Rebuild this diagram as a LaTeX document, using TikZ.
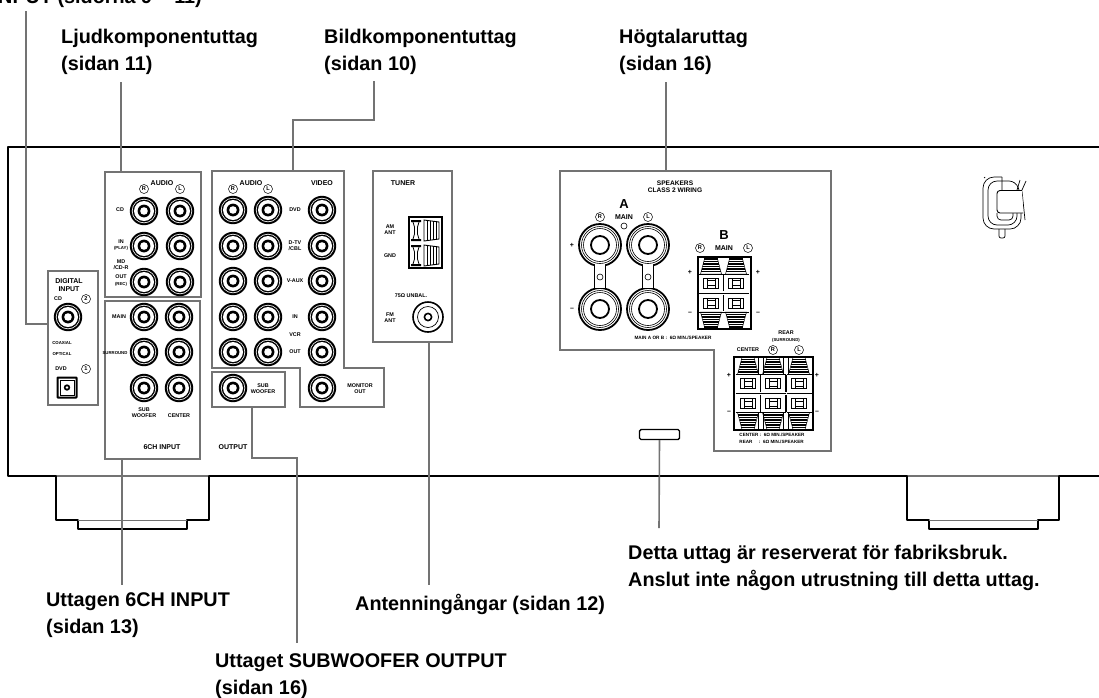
\documentclass[tikz,border=0pt]{standalone}
\usepackage{fontspec}
\setmainfont{Liberation Sans}
\tikzset{
  biglabel/.style={anchor=base west,align=left,inner sep=0pt,font=\fontsize{19.8}{27}\selectfont\bfseries},
  sml/.style={inner sep=0pt,align=center,font=\fontsize{7}{7.4}\selectfont\bfseries},
  tin/.style={inner sep=0pt,align=center,font=\fontsize{5.4}{6.6}\selectfont\bfseries},
  tiny/.style={inner sep=0pt,align=center,font=\fontsize{4.3}{7}\selectfont\bfseries},
  chan/.style={draw,circle,line width=.5pt,inner sep=0pt,minimum size=9pt,font=\fontsize{5.6}{5.6}\selectfont\bfseries},
  leader/.style={draw=black!55,line width=2.2pt},
  panel/.style={draw=black!55,line width=2.2pt,fill=white},
  boxpanel/.style={panel,anchor=north west,inner sep=0pt,outer sep=0pt},
  body/.style={line width=1.8pt,line cap=round,line join=round},
  rca/.pic={
    \fill (0,0) circle (14.2pt);
    \fill[white] (0,0) circle (12.2pt);
    \fill (0,0) circle (11.4pt);
    \fill[white] (0,0) circle (10pt);
    \fill (0,0) circle (6.4pt);
    \fill[white] (0,0) circle (3.8pt);
  },
  spcol/.pic={
    % top and bottom cones
    \foreach \ya/\yb/\yc in {0/17/1,72/55/-1}{
      \draw[fill=white,line width=.5pt] (-6,\ya) -- (6,\ya) -- (10.5,\yb) -- (-10.5,\yb) -- cycle;
      \foreach \s in {2,4.5,7,9.5,12,14.5}
        \draw[line width=1.1pt] ({-6-\s*.26},\ya+\yc*\s) -- ({6+\s*.26},\ya+\yc*\s);
    }
    \draw[line width=.5pt] (-12.5,17) -- (12.5,17) (-12.5,36) -- (12.5,36) (-12.5,55) -- (12.5,55);
    % windows
    \foreach \w in {26,46}{
      \draw[line width=.9pt] (-7.5,\w-5) rectangle (7.5,\w+5);
      \draw[line width=.5pt] (-4,\w-5) -- (-4,\w+5) (4,\w-5) -- (4,\w+5) (-4,\w-2.5) -- (4,\w-2.5) (-4,\w+2.5) -- (4,\w+2.5);
    }
  },
  amrow/.pic={
    \fill (0,0) rectangle (10,2) (0,19) rectangle (10,21);
    \draw[line width=.8pt] (2,2) -- (3.5,7) -- (3.5,14) -- (2,19) (8,2) -- (6.5,7) -- (6.5,14) -- (8,19);
    \draw[line width=.9pt] (13,0) -- (28,2) -- (28,19) -- (13,21) -- cycle;
    \foreach \v in {16,19,22,25}
      \draw[line width=.8pt] (\v,1) -- (\v,20);
  }
}
\begin{document}
\begin{tikzpicture}[x=1pt,y=-1pt]
  \useasboundingbox (0,0) rectangle (1099,697);
  \clip (0,0) rectangle (1099,697);
  % chassis and feet
  \draw[body] (1099,147) -- (8,147) -- (8,476) -- (56,476);
  \draw[body] (209,476) -- (907,476);
  \draw[body] (1059,476) -- (1099,476);
  \draw[leader,line width=1.6pt] (56,476) -- (209,476);
  \draw[leader,line width=1.6pt] (907,476) -- (1059,476);
  \draw[body] (56,476) -- (56,520) -- (78,520) -- (78,529) -- (187,529) -- (187,520) -- (209,520) -- (209,476);
  \draw[body] (907,476) -- (907,520) -- (929,520) -- (929,529) -- (1038,529) -- (1038,520) -- (1059,520) -- (1059,476);
  \draw[leader,line width=.8pt] (78,520) -- (187,520) (929,520) -- (1038,520);
  % panels
  \node[boxpanel,minimum width=96pt,minimum height=125pt] (audiopanel) at (105,172) {};
  \node[boxpanel,minimum width=95pt,minimum height=158pt] (inputpanel) at (105,301) {};
  \node[boxpanel,minimum width=50pt,minimum height=134pt] (digitalpanel) at (48,271) {};
  \node[boxpanel,minimum width=79pt,minimum height=171pt] (tunerpanel) at (373,171) {};
  \node[boxpanel,minimum width=73pt,minimum height=35pt] (subpanel) at (212,372) {};
  \coordinate (videotop) at (293,171);
  \draw[panel] (212,171) -- (344,171) -- (344,368) -- (384,368) -- (384,407) -- (300,407) -- (300,368) -- (212,368) -- cycle;
  \coordinate (speakertop) at (666,171);
  \draw[panel] (560,171) -- (831,171) -- (831,451) -- (714,451) -- (714,350) -- (560,350) -- cycle;
  % leaders
  \coordinate (digitalstart) at (26,11);
  \coordinate (ljudstart) at (121,82);
  \coordinate (bildstart) at (374,81);
  \coordinate (speakerstart) at (666,82);
  \coordinate (antennaend) at (429,585);
  \coordinate (inputend) at (122,585);
  \coordinate (subend) at (297,643);
  \coordinate (subtap) at (252,407);
  \coordinate (factoryend) at (659,528);
  \draw[leader] (digitalstart) |- (digitalpanel.west |- 0,324);
  \draw[leader] (ljudstart) -- (ljudstart |- audiopanel.north);
  \draw[leader] (bildstart) -- (374,120) -- (293,120) -- (videotop);
  \draw[leader] (speakerstart) -- (speakertop);
  \draw[leader] (antennaend |- tunerpanel.south) -- (antennaend);
  \draw[leader] (inputend |- inputpanel.south) -- (inputend);
  \draw[leader] (subtap) -- (252,458) -- (297,458) -- (subend);
  % factory socket
  \node[draw,rounded corners=1.5pt,line width=1.4pt,fill=white,minimum width=40pt,minimum height=10pt,inner sep=0pt] (socket) at (659.5,434.5) {};
  \draw[leader,line width=1.6pt] (socket.south) -- (factoryend);
  % jacks
  \foreach \x in {144,180}
    \foreach \y in {211,246,282}
      \pic at (\x,\y) {rca};
  \foreach \x in {144,179}
    \foreach \y in {317,352,388}
      \pic at (\x,\y) {rca};
  \foreach \x in {233,268,322}
    \foreach \y in {210,246,281,317,352}
      \pic at (\x,\y) {rca};
  \pic at (322,388) {rca};
  \pic at (233,388) {rca};
  \pic at (68,317) {rca};
  % optical
  \draw[line width=2pt,rounded corners=.5pt] (57.5,377.5) rectangle (76.5,397.5);
  \draw[line width=.6pt] (60,380) rectangle (74,395);
  \fill (67,387.5) circle (3.2pt);
  \fill[white] (67,387.5) circle (1.4pt);
  % fm antenna
  \draw[line width=1.6pt] (428,317) circle (15pt);
  \draw[line width=.7pt] (428,317) circle (10.5pt);
  \draw[line width=1.6pt] (428,317) circle (3.6pt);
  % am terminal
  \draw[line width=2.4pt] (409,217) rectangle (442,268);
  \pic at (411,220) {amrow};
  \pic at (411,245) {amrow};
  % speakers A
  \foreach \x in {600,648}{
    \draw[line width=1.6pt,fill=white] (\x-5.5,260) rectangle (\x+5.5,294);
    \foreach \y in {245,309}{
      \draw[line width=1.8pt,fill=white] (\x,\y) circle (21pt);
      \draw[line width=.6pt] (\x,\y) circle (18.5pt);
      \draw[line width=.6pt] (\x,\y) circle (16.5pt);
      \draw[line width=1.8pt] (\x,\y) circle (9pt);
    }
    \fill[white] (\x-4.6,264) rectangle (\x+4.6,288);
    \draw[line width=.6pt] (\x,277) circle (3pt);
  }
  \draw[line width=.6pt] (624,226) circle (3pt);
  % speakers B
  \foreach \x in {711,736}
    \pic at (\x,257) {spcol};
  \draw[line width=1.8pt] (698,257) rectangle (751,329);
  \draw[line width=1.4pt] (723.5,275) -- (723.5,291) (723.5,295) -- (723.5,311);
  % speakers rear
  \foreach \x in {748,773,799}
    \pic at (\x,357.5) {spcol};
  \draw[line width=1.8pt] (734,357) rectangle (813,430);
  \foreach \x in {760.5,786}{
    \draw[line width=1.4pt] (\x,375) -- (\x,392) (\x,395) -- (\x,412);
    \draw[line width=.5pt] (\x-2.5,357) -- (\x-2.5,375) (\x+2.5,357) -- (\x+2.5,375) (\x-2.5,412) -- (\x-2.5,430) (\x+2.5,412) -- (\x+2.5,430);
  }
  % power cord
  \draw[line width=.7pt,rounded corners=11pt] (1002,177) -- (983,177) -- (983,229) -- (1021,229) -- (1021,200);
  \draw[line width=.7pt,rounded corners=9pt] (1002,181) -- (988,181) -- (988,225) -- (1017,225) -- (1017,200);
  \draw[line width=.7pt,rounded corners=7pt] (1002,181) -- (1016,181) -- (1019,190);
  \draw[line width=.7pt,rounded corners=4pt] (1013,213) -- (1013,220) -- (997,220) -- (997,213);
  \draw[line width=.7pt] (985,177) -- (984,178) (1002,177) -- (1002,191) (1020,180) -- (1017,190) (1026,181) -- (1022,190);
  \draw[line width=.7pt] (1022,191) -- (1025,220);
  \draw[line width=.7pt,rounded corners=2pt] (999,229) -- (999,238) -- (1005,238) -- (1005,229);
  \draw[line width=.9pt,fill=white,rounded corners=3pt] (1022,190.5) -- (997,190.5) -- (997,213) -- (1023,213);
  % digital texts
  \node[sml] (digitalname) at (69,285) {DIGITAL\\INPUT};
  \node[tin] (digitalcd) at (58,299) {CD};
  \node[chan] (numtwo) at (86,299) {2};
  \node[tiny] (coaxial) at (62,343) {COAXIAL};
  \node[tiny] (optical) at (62,354) {OPTICAL};
  \node[tin] (digitaldvd) at (61,369) {DVD};
  \node[chan] (numone) at (86,369) {1};
  % audio texts
  \node[sml] (audioname) at (162,183) {AUDIO};
  \node[chan] (audior) at (144,189) {R};
  \node[chan] (audiol) at (180,189) {L};
  \node[tin] (audiocd) at (120,210) {CD};
  \node[tin] (audioin) at (121,242) {IN};
  \node[tiny] (audioplay) at (121,248) {(PLAY)};
  \node[tin] (audiomd) at (121,264.5) {MD\\/CD-R};
  \node[tin] (audioout) at (121,277) {OUT};
  \node[tiny] (audiorec) at (121,284) {(REC)};
  % six channel texts
  \node[tin] (inputmain) at (119,317) {MAIN};
  \node[tiny] (inputsurround) at (115,353) {SURROUND};
  \node[tin] (inputsub) at (144,412.5) {SUB\\WOOFER};
  \node[tin] (inputcenter) at (179,416) {CENTER};
  \node[sml] (inputname) at (162,447) {6CH INPUT};
  \node[sml] (outputname) at (233,447) {OUTPUT};
  % video texts
  \node[sml] (videoaudio) at (251,183) {AUDIO};
  \node[sml] (videoname) at (322,183) {VIDEO};
  \node[chan] (videor) at (233,189) {R};
  \node[chan] (videol) at (268,189) {L};
  \node[tin] (videodvd) at (295,210) {DVD};
  \node[tin] (videotv) at (295,245.5) {D-TV\\/CBL};
  \node[tin] (videoaux) at (295,281) {V-AUX};
  \node[tin] (videoin) at (295,317) {IN};
  \node[tin] (videovcr) at (295,335) {VCR};
  \node[tin] (videoout) at (295,352) {OUT};
  \node[tin] (monitorout) at (360,388.5) {MONITOR\\OUT};
  \node[tin] (subwoofer) at (263,388.5) {SUB\\WOOFER};
  % tuner texts
  \node[sml] (tunername) at (403,183) {TUNER};
  \node[tin] (amant) at (390,229.5) {AM\\ANT};
  \node[tin] (gnd) at (390,256) {GND};
  \node[tin] (unbal) at (411,296) {75Ω UNBAL.};
  \node[tin] (fmant) at (390,317.5) {FM\\ANT};
  % speaker texts
  \node[sml,font=\fontsize{6.6}{6.8}\selectfont\bfseries] (speakername) at (675,187) {SPEAKERS\\CLASS 2 WIRING};
  \node[font=\fontsize{13}{13}\selectfont\bfseries,inner sep=0pt] (speakera) at (624,204) {A};
  \node[sml] (maina) at (624,217) {MAIN};
  \node[chan] (mainar) at (600,217) {R};
  \node[chan] (mainal) at (648,217) {L};
  \node[sml] (plusa) at (572,245) {+};
  \node[sml] (minusa) at (572,309) {--};
  \node[font=\fontsize{13}{13}\selectfont\bfseries,inner sep=0pt] (speakerb) at (724,235) {B};
  \node[sml] (mainb) at (724,248) {MAIN};
  \node[chan] (mainbr) at (700,248) {R};
  \node[chan] (mainbl) at (748,248) {L};
  \node[sml] (plusbl) at (690,272) {+};
  \node[sml] (plusbr) at (758,272) {+};
  \node[sml] (minusbl) at (690,313) {--};
  \node[sml] (minusbr) at (758,313) {--};
  \node[tiny,font=\fontsize{4.7}{5}\selectfont\bfseries] (mainohm) at (673,338) {MAIN A OR B :\ \ 6Ω MIN./SPEAKER};
  \node[tin] (rearname) at (786,333) {REAR};
  \node[tiny] (rearsurround) at (786,340) {(SURROUND)};
  \node[tin] (rearcenter) at (748,350) {CENTER};
  \node[chan] (rearr) at (773,350) {R};
  \node[chan] (rearl) at (799,350) {L};
  \node[sml] (plusrl) at (729,375) {+};
  \node[sml] (plusrr) at (817,375) {+};
  \node[sml] (minusrl) at (729,412) {--};
  \node[sml] (minusrr) at (817,412) {--};
  \node[tiny,align=left,font=\fontsize{4.6}{7}\selectfont\bfseries] (rearohm) at (772,438.5) {CENTER :\ \ 6Ω MIN./SPEAKER\\REAR\ \ \ \ \ :\ \ 6Ω MIN./SPEAKER};
  % captions
  \node[biglabel,anchor=base east] (digitalcap) at (202,3) {INPUT (sidorna 9 -- 11)};
  \node[biglabel] (ljudcap) at (61,70) {Ljudkomponentuttag\\(sidan 11)};
  \node[biglabel] (bildcap) at (324,70) {Bildkomponentuttag\\(sidan 10)};
  \node[biglabel] (speakercap) at (619,70) {Högtalaruttag\\(sidan 16)};
  \node[biglabel] (inputcap) at (46,633) {Uttagen 6CH INPUT\\(sidan 13)};
  \node[biglabel] (antennacap) at (355,610) {Antenningångar (sidan 12)};
  \node[biglabel] (subcap) at (215,694) {Uttaget SUBWOOFER OUTPUT\\(sidan 16)};
  \node[biglabel] (factorycap) at (628,586) {Detta uttag är reserverat för fabriksbruk.\\Anslut inte någon utrustning till detta uttag.};
\end{tikzpicture}
\end{document}
